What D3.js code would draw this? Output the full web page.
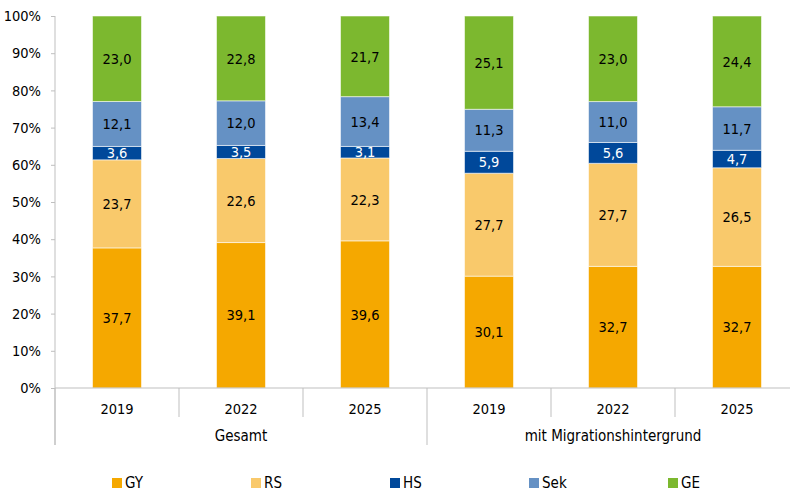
<!DOCTYPE html>
<html>
<head>
<meta charset="utf-8">
<script src="https://cdn.jsdelivr.net/npm/d3@7"></script>
<style>
  body { margin: 0; background: #fff; }
  svg { font-family: "DejaVu Sans Condensed", "DejaVu Sans", sans-serif; }
</style>
</head>
<body>
<svg id="chart" width="790" height="494"></svg>
<script>
// Data
const years = ["2019", "2022", "2025", "2019", "2022", "2025"];
const groups = ["Gesamt", "mit Migrationshintergrund"];
const seriesNames = ["GY", "RS", "HS", "Sek", "GE"];
const seriesColors = ["#f5a800", "#f9c96b", "#00489a", "#6591c4", "#7cb82f"];
const labelColors = ["#000", "#000", "#fff", "#000", "#000"];
const gy = [37.7, 39.1, 39.6, 30.1, 32.7, 32.7];
const rs = [23.7, 22.6, 22.3, 27.7, 27.7, 26.5];
const hs = [3.6, 3.5, 3.1, 5.9, 5.6, 4.7];
const sek = [12.1, 12.0, 13.4, 11.3, 11.0, 11.7];
const ge = [23.0, 22.8, 21.7, 25.1, 23.0, 24.4];
const yTicks = [0, 0.1, 0.2, 0.3, 0.4, 0.5, 0.6, 0.7, 0.8, 0.9, 1];

// Layout
const plot = { left: 55, right: 799, top: 16, bottom: 388 };
const axisColor = "#bfbfbf";
const fontSize = 15;
const numSize = 14.5;

const rows = years.map((y, i) => ({
  idx: i, GY: gy[i], RS: rs[i], HS: hs[i], Sek: sek[i], GE: ge[i]
}));

const svg = d3.select("#chart");

const x = d3.scaleBand()
  .domain(rows.map((d) => d.idx))
  .range([plot.left, plot.right])
  .padding(0);
const barW = x.bandwidth() * 0.395;

const yScale = d3.scaleLinear().domain([0, 1]).range([plot.bottom, plot.top]);

const stacked = d3.stack()
  .keys(seriesNames)
  .offset(d3.stackOffsetExpand)(rows);

// Y axis
const yAxis = d3.axisLeft(yScale)
  .tickValues(yTicks)
  .tickSize(4)
  .tickPadding(10)
  .tickFormat((d) => `${Math.round(d * 100)}%`);

const yg = svg.append("g")
  .attr("transform", `translate(${plot.left},0)`)
  .call(yAxis);
yg.select(".domain").remove();
yg.selectAll(".tick line").attr("stroke", axisColor);
yg.selectAll(".tick text")
  .attr("font-size", numSize)
  .attr("fill", "#000")
  .attr("font-family", "DejaVu Sans Condensed, DejaVu Sans, sans-serif");

svg.append("line")
  .attr("x1", plot.left).attr("x2", plot.left)
  .attr("y1", plot.top).attr("y2", 445)
  .attr("stroke", axisColor);

// Bars
const layers = svg.append("g")
  .selectAll("g.layer")
  .data(stacked)
  .join("g")
  .attr("class", "layer")
  .attr("fill", (d, i) => seriesColors[i]);

layers.selectAll("rect")
  .data((d) => d)
  .join("rect")
  .attr("x", (d) => x(d.data.idx) + (x.bandwidth() - barW) / 2)
  .attr("y", (d) => yScale(d[1]))
  .attr("width", barW)
  .attr("height", (d) => yScale(d[0]) - yScale(d[1]))
  .attr("stroke", "rgba(255,255,255,0.55)")
  .attr("stroke-width", 1);

// Value labels
stacked.forEach((layer, si) => {
  svg.append("g")
    .selectAll("text")
    .data(layer)
    .join("text")
    .attr("x", (d) => x(d.data.idx) + x.bandwidth() / 2)
    .attr("y", (d) => (yScale(d[0]) + yScale(d[1])) / 2)
    .attr("dy", "0.36em")
    .attr("text-anchor", "middle")
    .attr("font-size", numSize)
    .attr("fill", labelColors[si])
    .text((d) => d.data[seriesNames[si]].toFixed(1).replace(".", ","));
});

// X axis
svg.append("line")
  .attr("x1", plot.left).attr("x2", 790)
  .attr("y1", plot.bottom).attr("y2", plot.bottom)
  .attr("stroke", axisColor);

const boundaries = rows.map((d) => x(d.idx)).concat([plot.right]);
svg.append("g")
  .selectAll("line")
  .data(boundaries)
  .join("line")
  .attr("x1", (d) => d).attr("x2", (d) => d)
  .attr("y1", plot.bottom)
  .attr("y2", (d, i) => (i % 3 === 0 ? 445 : 417))
  .attr("stroke", axisColor);

svg.append("g")
  .selectAll("text")
  .data(rows)
  .join("text")
  .attr("x", (d) => x(d.idx) + x.bandwidth() / 2)
  .attr("y", 414)
  .attr("text-anchor", "middle")
  .attr("font-size", numSize)
  .text((d) => years[d.idx]);

svg.append("g")
  .selectAll("text")
  .data(groups)
  .join("text")
  .attr("x", (d, i) => (x(i * 3) + (i === 1 ? plot.right : x(i * 3 + 3))) / 2)
  .attr("y", 441)
  .attr("text-anchor", "middle")
  .attr("font-size", fontSize)
  .text((d) => d);

// Legend
const legend = svg.append("g")
  .selectAll("g")
  .data(seriesNames)
  .join("g")
  .attr("transform", (d, i) => `translate(${112 + i * 139},478)`);

legend.append("rect")
  .attr("width", 10).attr("height", 10)
  .attr("fill", (d, i) => seriesColors[i]);

legend.append("text")
  .attr("x", 13)
  .attr("y", 10)
  .attr("font-size", fontSize)
  .text((d) => d);
</script>
</body>
</html>
